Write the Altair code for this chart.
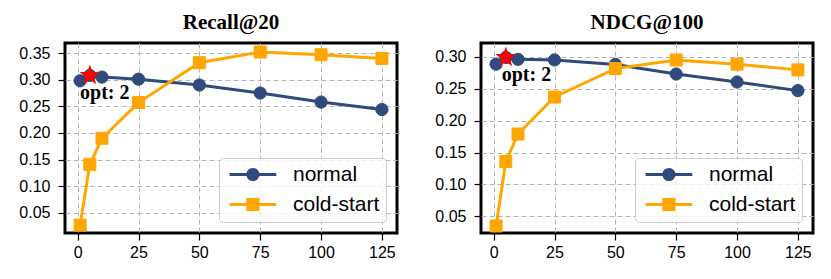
import math
import altair as alt
import pandas as pd

# ---- data ----
x_values = [1, 5, 10, 25, 50, 75, 100, 125]
recall_normal = [0.298, 0.308, 0.305, 0.301, 0.290, 0.275, 0.258, 0.244]
recall_cold = [0.027, 0.141, 0.190, 0.257, 0.332, 0.352, 0.347, 0.340]
ndcg_normal = [0.2885, 0.299, 0.296, 0.295, 0.288, 0.273, 0.2605, 0.247]
ndcg_cold = [0.035, 0.136, 0.179, 0.237, 0.2815, 0.295, 0.2885, 0.2795]
series_names = ["normal", "cold-start"]
series_colors = ["#2f4b7c", "#ffa600"]
panel_titles = ["Recall@20", "NDCG@100"]
opt_x = 5
opt_label = "opt: 2"
opt_text_pos = [(1.0, 0.2645), (3.3, 0.262)]
x_ticks = [0, 25, 50, 75, 100, 125]
recall_ticks = [0.05, 0.10, 0.15, 0.20, 0.25, 0.30, 0.35]
ndcg_ticks = [0.05, 0.10, 0.15, 0.20, 0.25, 0.30]
recall_domain = [0.012, 0.369]
ndcg_domain = [0.024, 0.3216]
x_domain = [-5.2, 131.2]


def star_path():
    pts = []
    for k in range(10):
        r = 1.0 if k % 2 == 0 else 0.40
        a = math.radians(-90 + 36 * k)
        pts.append(f"{r * math.cos(a):.3f},{r * math.sin(a):.3f}")
    return "M" + "L".join(pts) + "Z"


legend_paths = [
    "M-1,0L6.8,0M3.75,0A0.85,0.85,0,1,1,2.05,0A0.85,0.85,0,1,1,3.75,0Z",
    "M-1,0L6.8,0M2.05,-0.85L3.75,-0.85L3.75,0.85L2.05,0.85Z",
]


def panel(title, normal, cold, ydom, yticks, text_xy):
    df = pd.DataFrame({
        "x": x_values + x_values,
        "y": normal + cold,
        "series": [series_names[0]] * len(x_values) + [series_names[1]] * len(x_values),
    })
    xenc = alt.X("x:Q", scale=alt.Scale(domain=x_domain, nice=False, zero=False),
                 axis=alt.Axis(values=x_ticks, title=None, grid=True, tickCount=20,
                               labelOverlap=False, labelBound=False))
    yenc = alt.Y("y:Q", scale=alt.Scale(domain=ydom, nice=False, zero=False),
                 axis=alt.Axis(values=yticks, format=".2f", title=None, grid=True,
                               tickCount=20, labelOverlap=False, labelBound=False))
    base = alt.Chart(df).encode(x=xenc, y=yenc)

    layers = []
    for name, col, shape, size in [(series_names[0], series_colors[0], "circle", 150),
                                   (series_names[1], series_colors[1], "square", 144)]:
        sub = base.transform_filter(alt.datum.series == name)
        layers.append(sub.mark_line(color=col, strokeWidth=3))
        layers.append(sub.mark_point(color=col, filled=True, shape=shape, size=size,
                                     opacity=1, stroke=col, strokeWidth=1))

    # invisible layer that only drives the legend
    leg_common = dict(title=None)
    legend_layer = base.mark_point(opacity=0, filled=True).encode(
        fill=alt.Fill("series:N", scale=alt.Scale(domain=series_names, range=series_colors),
                      legend=alt.Legend(**leg_common)),
        stroke=alt.Stroke("series:N", scale=alt.Scale(domain=series_names, range=series_colors),
                          legend=alt.Legend(**leg_common)),
        shape=alt.Shape("series:N", scale=alt.Scale(domain=series_names, range=legend_paths),
                        legend=alt.Legend(**leg_common)),
    )

    opt_df = pd.DataFrame({"x": [opt_x], "y": [normal[x_values.index(opt_x)]],
                           "tx": [text_xy[0]], "ty": [text_xy[1]], "label": [opt_label]})
    star = alt.Chart(opt_df).mark_point(shape=star_path(), filled=True, color="#ff0000",
                                        size=480, opacity=1).encode(x="x:Q", y="y:Q")
    text = alt.Chart(opt_df).mark_text(align="left", baseline="alphabetic",
                                       font="Liberation Serif", fontWeight="bold",
                                       fontSize=20, color="black").encode(
        x="tx:Q", y="ty:Q", text="label:N")

    return alt.layer(legend_layer, *layers, star, text).properties(
        width=332, height=190,
        title=alt.TitleParams(title, font="Liberation Serif", fontSize=21,
                              fontWeight="bold", color="black", offset=10),
    )


left = panel(panel_titles[0], recall_normal, recall_cold, recall_domain, recall_ticks, opt_text_pos[0])
right = panel(panel_titles[1], ndcg_normal, ndcg_cold, ndcg_domain, ndcg_ticks, opt_text_pos[1])

chart = alt.hconcat(left, right, spacing=29).resolve_scale(
    fill="independent", stroke="independent", shape="independent"
).resolve_legend(
    fill="independent", stroke="independent", shape="independent"
).properties(
    padding={"left": 8, "top": 2, "right": 0, "bottom": 0}
).configure_view(
    stroke="black", strokeWidth=3
).configure_axis(
    domain=False, tickColor="black", tickSize=7, tickWidth=1.2,
    labelFont="Liberation Sans", labelFontSize=16, labelColor="black",
    labelOverlap=False, labelBound=False,
    gridColor="#b5b5b5", gridDash=[5, 3], gridWidth=1,
    minExtent=47, maxExtent=47,
).configure_axisX(labelPadding=4).configure_axisY(labelPadding=8).configure_legend(
    orient="bottom-right", offset=11, padding=6, symbolSize=144, symbolStrokeWidth=3,
    labelFont="Liberation Sans", labelFontSize=21, labelColor="black", labelOffset=47,
    rowPadding=7, strokeColor="#cccccc", fillColor="rgba(255,255,255,0.8)",
    cornerRadius=4, symbolOpacity=1,
)

chart.save("out.html", embed_options={"renderer": "svg", "actions": False})
